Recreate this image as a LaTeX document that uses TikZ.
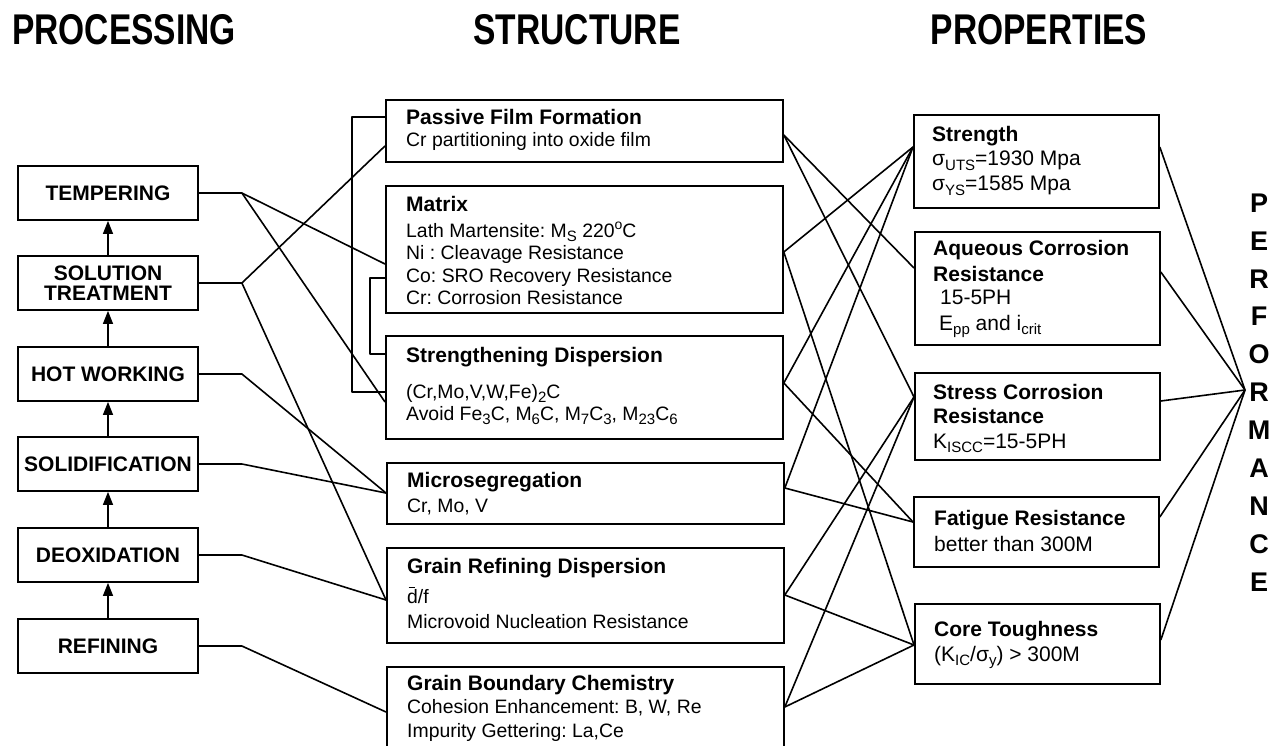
\documentclass[tikz,border=0pt]{standalone}
\usepackage{fontspec}
\setmainfont{Liberation Sans}
\usetikzlibrary{arrows.meta}
\frenchspacing
\newcommand{\mysub}[1]{\raisebox{-4.5pt}{\fontsize{15}{15}\selectfont #1}}
\newcommand{\mysup}[1]{\raisebox{7pt}{\fontsize{14}{14}\selectfont #1}}
\begin{document}
\begin{tikzpicture}[x=1pt,y=-1pt,
  hdr/.style={anchor=base, inner sep=0, font=\fontsize{43}{43}\selectfont\bfseries},
  lbox/.style={draw, line width=1.8pt, minimum width=180, minimum height=54, inner sep=0, align=center, font=\fontsize{21}{20}\selectfont\bfseries},
  sbox/.style={draw, line width=1.8pt, minimum width=397, inner sep=0, anchor=north west},
  pbox/.style={draw, line width=1.8pt, minimum width=245, inner sep=0, anchor=north west},
  conn/.style={line width=1.6pt, line join=round},
  uparr/.style={line width=1.2pt, -{Triangle[length=13pt,width=10pt]}},
  st/.style={anchor=base west, inner sep=0, font=\fontsize{19.4}{22}\selectfont},
  stb/.style={anchor=base west, inner sep=0, font=\fontsize{21}{24}\selectfont\bfseries},
  pt/.style={anchor=base west, inner sep=0, font=\fontsize{21}{24}\selectfont},
  ptb/.style={anchor=base west, inner sep=0, font=\fontsize{21}{24}\selectfont\bfseries},
  perfl/.style={inner sep=0, font=\fontsize{27}{27}\selectfont\bfseries}
]
\useasboundingbox (0,0) rectangle (1272,746);
\fill[white] (0,0) rectangle (1272,746);

% headers
\node[hdr] (hproc) at (124,45) {\scalebox{0.78}[1]{PROCESSING}};
\node[hdr] (hstru) at (577,45) {\scalebox{0.78}[1]{STRUCTURE}};
\node[hdr] (hprop) at (1039,45) {\scalebox{0.78}[1]{PROPERTIES}};

% processing column
\node[lbox] (tmp) at (108,193) {TEMPERING};
\node[lbox] (sol) at (108,283) {SOLUTION\\TREATMENT};
\node[lbox] (hot) at (108,374) {HOT WORKING};
\node[lbox] (sod) at (108,464) {SOLIDIFICATION};
\node[lbox] (deo) at (108,555) {DEOXIDATION};
\node[lbox] (ref) at (108,646) {REFINING};
\draw[uparr] (sol.north) -- (tmp.south);
\draw[uparr] (hot.north) -- (sol.south);
\draw[uparr] (sod.north) -- (hot.south);
\draw[uparr] (deo.north) -- (sod.south);
\draw[uparr] (ref.north) -- (deo.south);

% structure column
\node[sbox, minimum height=62] (pf) at (385,99) {};
\node[sbox, minimum height=127] (mat) at (385,185) {};
\node[sbox, minimum height=103] (sd) at (385,335) {};
\node[sbox, minimum height=61] (ms) at (386,462) {};
\node[sbox, minimum height=95] (grd) at (386,547) {};
\node[sbox, minimum height=100] (gbc) at (386,666) {};

\node[stb] (pf1) at (406,125) {Passive Film Formation};
\node[st] (pf2) at (406,147) {Cr partitioning into oxide film};
\node[stb] (mat1) at (406,212) {Matrix};
\node[st] (mat2) at (406,237) {Lath Martensite: M\mysub{S} 220\mysup{o}C};
\node[st] (mat3) at (406,260) {Ni : Cleavage Resistance};
\node[st] (mat4) at (406,282) {Co: SRO Recovery Resistance};
\node[st] (mat5) at (406,305) {Cr: Corrosion Resistance};
\node[stb] (sd1) at (406,362) {Strengthening Dispersion};
\node[st] (sd2) at (406,398) {(Cr,Mo,V,W,Fe)\mysub{2}C};
\node[st] (sd3) at (406,420) {Avoid Fe\mysub{3}C, M\mysub{6}C, M\mysub{7}C\mysub{3}, M\mysub{23}C\mysub{6}};
\node[stb] (ms1) at (407,487) {Microsegregation};
\node[st] (ms2) at (407,512) {Cr, Mo, V};
\node[stb] (grd1) at (407,573) {Grain Refining Dispersion};
\node[st] (grd2) at (407,603) {\makebox[0pt][l]{\hspace{1.5pt}\raisebox{15pt}{\rule{6pt}{1.3pt}}}d/f};
\node[st] (grd3) at (407,628) {Microvoid Nucleation Resistance};
\node[stb] (gbc1) at (407,690) {Grain Boundary Chemistry};
\node[st] (gbc2) at (407,713) {Cohesion Enhancement: B, W, Re};
\node[st] (gbc3) at (407,737) {Impurity Gettering: La,Ce};

% brackets
\draw[conn] (pf.west |- 0,117) -- ++(-33,0) |- (sd.west |- 0,392);
\draw[conn] (mat.west |- 0,278) -- ++(-15,0) |- (sd.west |- 0,354);

% properties column
\node[pbox, minimum height=93] (str) at (913,114) {};
\node[pbox, minimum height=113] (aq) at (914,231) {};
\node[pbox, minimum height=87] (scr) at (914,372) {};
\node[pbox, minimum height=70] (fat) at (913,496) {};
\node[pbox, minimum height=80] (core) at (914,603) {};

\node[ptb] (s1) at (932,142) {Strength};
\node[pt] (s2) at (932,166) {σ\mysub{UTS}=1930 Mpa};
\node[pt] (s3) at (932,191) {σ\mysub{YS}=1585 Mpa};
\node[ptb] (a1) at (933,256) {Aqueous Corrosion};
\node[ptb] (a2) at (933,281) {Resistance};
\node[pt] (a3) at (940,305) {15-5PH};
\node[pt] (a4) at (939,330) {E\mysub{pp} and i\mysub{crit}};
\node[ptb] (sc1) at (933,399) {Stress Corrosion};
\node[ptb] (sc2) at (933,423) {Resistance};
\node[pt] (sc3) at (933,448) {K\mysub{ISCC}=15-5PH};
\node[ptb] (f1) at (934,525) {Fatigue Resistance};
\node[pt] (f2) at (934,551) {better than 300M};
\node[ptb] (c1) at (934,636) {Core Toughness};
\node[pt] (c2) at (934,661) {(K\mysub{IC}/σ\mysub{y}) > 300M};

% performance
\foreach \L [count=\i] in {P,E,R,F,O,R,M,A,N,C,E}
  \node[perfl] (pl\i) at (1259,{165.1+37.9*\i}) {\L};
\coordinate (perf) at (1245,390);

% processing -> structure
\draw[conn] (tmp.east) -- ++(43,0) coordinate (jt) -- (mat.west |- 0,264);
\draw[conn] (jt) -- (sd.west |- 0,402);
\draw[conn] (sol.east) -- ++(43,0) coordinate (js) -- (pf.west |- 0,146);
\draw[conn] (js) -- (grd.west |- 0,600);
\draw[conn] (hot.east) -- ++(43,0) -- (ms.west |- 0,493);
\draw[conn] (sod.east) -- ++(43,0) -- (ms.west |- 0,493);
\draw[conn] (deo.east) -- ++(43,0) -- (grd.west |- 0,600);
\draw[conn] (ref.east) -- ++(43,0) -- (gbc.west |- 0,712);

% structure -> properties
\draw[conn] (pf.east |- 0,135) -- (aq.west |- 0,268);
\draw[conn] (pf.east |- 0,135) -- (scr.west |- 0,397);
\draw[conn] (mat.east |- 0,252) -- (str.west |- 0,147);
\draw[conn] (mat.east |- 0,252) -- (core.west |- 0,645);
\draw[conn] (sd.east |- 0,383) -- (str.west |- 0,147);
\draw[conn] (sd.east |- 0,383) -- (fat.west |- 0,522);
\draw[conn] (ms.east |- 0,488) -- (str.west |- 0,147);
\draw[conn] (ms.east |- 0,488) -- (fat.west |- 0,522);
\draw[conn] (grd.east |- 0,595) -- (scr.west |- 0,397);
\draw[conn] (grd.east |- 0,595) -- (core.west |- 0,645);
\draw[conn] (gbc.east |- 0,707) -- (scr.west |- 0,397);
\draw[conn] (gbc.east |- 0,707) -- (core.west |- 0,645);

% properties -> performance
\draw[conn] (str.east |- 0,147) -- (perf);
\draw[conn] (aq.east |- 0,272) -- (perf);
\draw[conn] (scr.east |- 0,401) -- (perf);
\draw[conn] (fat.east |- 0,517) -- (perf);
\draw[conn] (core.east |- 0,640) -- (perf);
\end{tikzpicture}
\end{document}
